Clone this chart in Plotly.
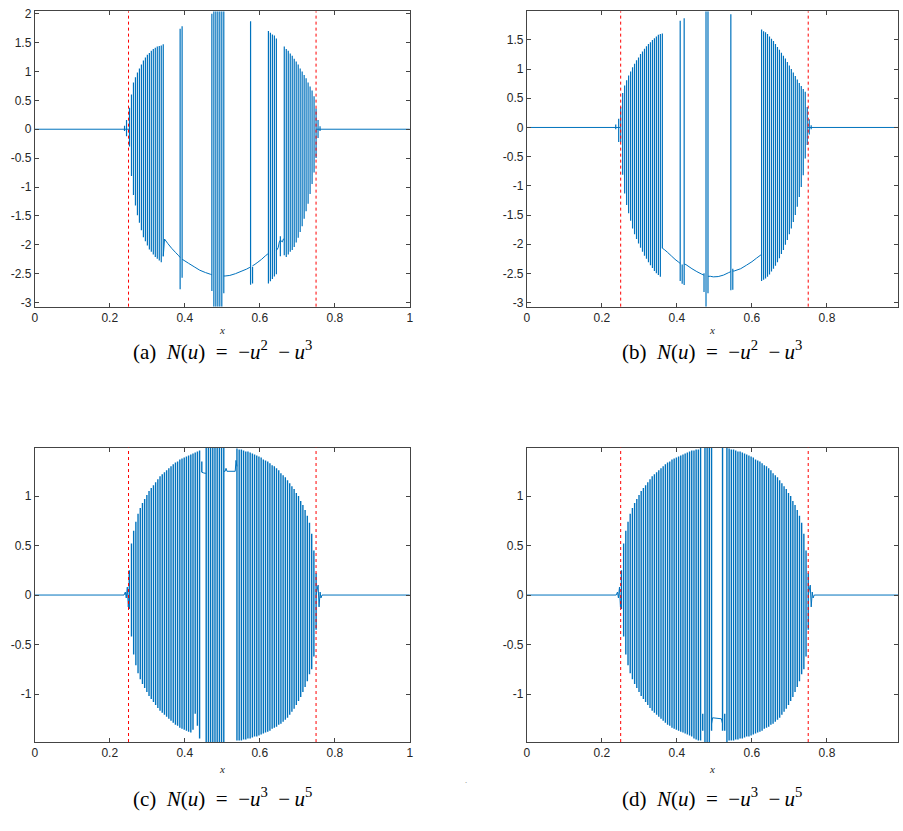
import plotly.graph_objects as go

# ---------------- data ----------------
ref_lines = [0.25, 0.75]

# panel (a): oscillation strokes (x, upper value, lower value)
a_spike_x = [0.2394, 0.2447,
             0.2526, 0.2579, 0.2632, 0.2685, 0.2738, 0.2791, 0.2844, 0.2897, 0.2950, 0.3003,
             0.3056, 0.3108, 0.3161, 0.3214, 0.3267, 0.3320, 0.3373, 0.3426,
             0.3876, 0.3929,
             0.4722, 0.4775, 0.4828, 0.4881, 0.4934, 0.4987, 0.5040,
             0.5754, 0.5807,
             0.6230, 0.6283, 0.6336, 0.6389, 0.6442,
             0.6548,
             0.6653, 0.6706, 0.6759, 0.6812, 0.6865, 0.6918, 0.6971, 0.7024, 0.7077, 0.7130,
             0.7183, 0.7235, 0.7288, 0.7341, 0.7394, 0.7447,
             0.7500, 0.7553, 0.7606]
a_spike_top = [0.06, 0.16,
               0.37, 0.60, 0.81, 0.90, 0.98, 1.05, 1.12, 1.19, 1.24, 1.29,
               1.32, 1.36, 1.39, 1.41, 1.43, 1.44, 1.45, 1.47,
               1.74, 1.78,
               2.00, 2.04, 2.04, 2.04, 2.04, 2.04, 2.04,
               1.87, -2.38,
               1.70, 1.67, 1.64, 1.62, 1.57,
               -1.85,
               1.43, 1.39, 1.36, 1.31, 1.27, 1.22, 1.17, 1.12, 1.05, 1.00,
               0.94, 0.88, 0.81, 0.74, 0.67, 0.57,
               0.36, 0.16, 0.05]
a_spike_bot = [-0.03, -0.12,
               -0.30, -0.81, -1.14, -1.32, -1.49, -1.62, -1.75, -1.87, -1.94, -2.01,
               -2.08, -2.12, -2.17, -2.21, -2.24, -2.27, -2.30, -2.20,
               -2.77, -2.57,
               -2.80, -3.07, -3.07, -3.07, -3.07, -3.07, -2.84,
               -2.69, -2.67,
               -2.67, -2.63, -2.59, -2.55, -2.51,
               -2.20,
               -2.18, -2.21, -2.17, -2.12, -2.09, -2.04, -1.96, -1.88, -1.78, -1.68,
               -1.55, -1.42, -1.29, -1.12, -0.95, -0.75,
               -0.50, -0.15, -0.03]
# panel (a): smooth parts of the solution (None = break)
a_base_x = [0.0, 0.2526, None,
            0.3426, 0.3460, 0.3550, 0.3650, 0.3750, 0.3840, 0.3876, None,
            0.3929, 0.3980, 0.4100, 0.4250, 0.4400, 0.4550, 0.4685, 0.4722, None,
            0.5040, 0.5075, 0.5200, 0.5350, 0.5500, 0.5650, 0.5735, 0.5754, None,
            0.5807, 0.5845, 0.5950, 0.6050, 0.6150, 0.6210, 0.6230, None,
            0.6442, 0.6490, 0.6520, 0.6548, 0.6600, 0.6630, 0.6653, None,
            0.7500, 1.0]
a_base_y = [0.0, 0.0, None,
            -2.20, -1.90, -1.98, -2.06, -2.13, -2.19, -2.22, None,
            -2.25, -2.27, -2.32, -2.38, -2.44, -2.48, -2.51, -2.52, None,
            -2.54, -2.54, -2.53, -2.50, -2.46, -2.42, -2.39, -2.38, None,
            -2.36, -2.35, -2.30, -2.25, -2.19, -2.16, -2.15, None,
            -2.10, -2.05, -1.95, -1.92, -1.95, -1.90, -1.90, None,
            0.0, 0.0]

# panel (b)
b_spike_x = [0.2368, 0.2447,
             0.2500, 0.2553, 0.2606, 0.2659, 0.2712, 0.2765, 0.2817, 0.2870, 0.2923, 0.2976,
             0.3029, 0.3082, 0.3135, 0.3188, 0.3241, 0.3294, 0.3347, 0.3400, 0.3452, 0.3505,
             0.3558, 0.3611,
             0.4087, 0.4140, 0.4193,
             0.4722, 0.4775, 0.4828,
             0.5437, 0.5489,
             0.6257, 0.6310, 0.6362, 0.6415, 0.6468, 0.6521, 0.6574, 0.6627, 0.6680, 0.6733,
             0.6786, 0.6839, 0.6892, 0.6944, 0.6997, 0.7050, 0.7103, 0.7156, 0.7209, 0.7262,
             0.7315, 0.7368, 0.7421, 0.7474,
             0.7527, 0.7579]
b_spike_top = [0.05, 0.15,
               0.35, 0.59, 0.72, 0.81, 0.89, 0.96, 1.03, 1.09, 1.15, 1.20,
               1.26, 1.30, 1.35, 1.39, 1.43, 1.46, 1.50, 1.53, 1.56, 1.59,
               1.60, 1.61,
               1.83, -2.35, 1.87,
               -2.50, 1.99, 1.99,
               1.94, -2.42,
               1.68, 1.65, 1.63, 1.60, 1.56, 1.52, 1.48, 1.43, 1.38, 1.33,
               1.28, 1.23, 1.18, 1.12, 1.06, 1.00, 0.94, 0.88, 0.82, 0.76,
               0.71, 0.66, 0.61, 0.35,
               0.14, 0.04]
b_spike_bot = [-0.03, -0.25,
               -0.25, -0.81, -1.13, -1.33, -1.47, -1.60, -1.73, -1.83, -1.91, -1.99,
               -2.06, -2.13, -2.20, -2.25, -2.31, -2.36, -2.41, -2.46, -2.50, -2.53,
               -2.56, -2.07,
               -2.63, -2.68, -2.70,
               -2.82, -3.07, -2.84,
               -2.79, -2.78,
               -2.63, -2.61, -2.59, -2.56, -2.52, -2.47, -2.42, -2.37, -2.31, -2.24,
               -2.17, -2.10, -2.01, -1.93, -1.83, -1.73, -1.62, -1.50, -1.36, -1.19,
               -1.02, -0.82, -0.53, -0.30,
               -0.12, -0.03]
b_base_x = [0.0, 0.2500, None,
            0.3611, 0.3660, 0.3750, 0.3850, 0.3950, 0.4050, 0.4087, None,
            0.4193, 0.4240, 0.4400, 0.4530, 0.4650, 0.4722, None,
            0.4828, 0.4890, 0.4970, 0.5100, 0.5240, 0.5370, 0.5437, None,
            0.5489, 0.5525, 0.5700, 0.5854, 0.6000, 0.6120, 0.6225, 0.6257, None,
            0.7474, 0.99]
b_base_y = [0.0, 0.0, None,
            -2.07, -2.09, -2.14, -2.20, -2.26, -2.31, -2.33, None,
            -2.34, -2.35, -2.42, -2.47, -2.51, -2.53, None,
            -2.55, -2.55, -2.56, -2.555, -2.53, -2.49, -2.47, None,
            -2.46, -2.46, -2.42, -2.36, -2.30, -2.24, -2.19, -2.18, None,
            0.0, 0.0]

# panels (c) and (d): positions of the oscillation strokes
grid_cd = [0.2520, 0.2579, 0.2637, 0.2696, 0.2754, 0.2813, 0.2872, 0.2930, 0.2989, 0.3047,
           0.3106, 0.3165, 0.3223, 0.3282, 0.3340, 0.3399, 0.3458, 0.3516, 0.3575, 0.3633,
           0.3692, 0.3751, 0.3809, 0.3868, 0.3926, 0.3985, 0.4044, 0.4102, 0.4161, 0.4219,
           0.4278, 0.4337, 0.4395, 0.4454, 0.4512, 0.4571, 0.4630, 0.4688, 0.4747, 0.4805,
           0.4864, 0.4923, 0.4981, 0.5040, 0.5098, 0.5157, 0.5216, 0.5274, 0.5333, 0.5391,
           0.5450, 0.5509, 0.5567, 0.5626, 0.5684, 0.5743, 0.5802, 0.5860, 0.5919, 0.5977,
           0.6036, 0.6095, 0.6153, 0.6212, 0.6270, 0.6329, 0.6388, 0.6446, 0.6505, 0.6563,
           0.6622, 0.6681, 0.6739, 0.6798, 0.6856, 0.6915, 0.6974, 0.7032, 0.7091, 0.7149,
           0.7208, 0.7267, 0.7325, 0.7384, 0.7442, 0.7501]

c_top = [0.25, 0.52, 0.65, 0.74, 0.82, 0.88, 0.93, 0.97, 1.01, 1.05,
         1.08, 1.11, 1.14, 1.17, 1.20, 1.22, 1.24, 1.26, 1.28, 1.30,
         1.32, 1.34, 1.35, 1.37, 1.38, 1.39, 1.40, 1.41, 1.42, 1.43,
         1.44, 1.45, 1.46, 1.35, None, 1.49, 1.49, 1.49, 1.49, 1.49,
         1.49, 1.49, 1.49, 1.49, None, None, None, None, None, 1.48,
         1.47, 1.47, 1.46, 1.45, 1.45, 1.44, 1.43, 1.42, 1.41, 1.40,
         1.39, 1.37, 1.36, 1.35, 1.33, 1.31, 1.30, 1.28, 1.26, 1.23,
         1.21, 1.19, 1.16, 1.13, 1.10, 1.07, 1.03, 1.00, 0.95, 0.91,
         0.86, 0.80, 0.73, 0.62, 0.45, 0.22]
c_bot = [-0.14, -0.42, -0.60, -0.71, -0.79, -0.85, -0.90, -0.94, -0.98, -1.02,
         -1.05, -1.08, -1.11, -1.14, -1.17, -1.19, -1.21, -1.23, -1.25, -1.27,
         -1.29, -1.31, -1.32, -1.34, -1.35, -1.36, -1.37, -1.38, -1.39, -1.36,
         -1.20, -1.32, -1.45, 1.24, None, -1.485, -1.485, -1.485, -1.485, -1.485,
         -1.485, -1.485, -1.485, -1.485, None, None, None, None, None, -1.47,
         -1.47, -1.47, -1.46, -1.46, -1.45, -1.45, -1.44, -1.43, -1.43, -1.42,
         -1.41, -1.40, -1.39, -1.38, -1.37, -1.35, -1.34, -1.33, -1.31, -1.30,
         -1.28, -1.26, -1.24, -1.21, -1.18, -1.15, -1.11, -1.07, -1.03, -0.98,
         -0.93, -0.87, -0.80, -0.75, -0.62, -0.35]
c_base_x = [0.0, 0.2380, 0.2415, 0.2440, 0.2468, 0.2494, 0.2520, None,
            0.4454, 0.4490, 0.4540, 0.4571, None,
            0.5040, 0.5075, 0.5100, 0.5125, 0.5345, 0.5365, 0.5391, None,
            0.7501, 0.7555, 0.7580, 0.7608, 0.7630, 0.7660, 1.0]
c_base_y = [0.0, 0.0, 0.03, -0.03, 0.08, -0.12, 0.0, None,
            1.24, 1.235, 1.23, 1.23, None,
            1.25, 1.25, 1.28, 1.25, 1.25, 1.36, 1.30, None,
            0.0, 0.10, -0.12, 0.03, -0.03, 0.0, 0.0]

d_top = [0.25, 0.52, 0.65, 0.74, 0.82, 0.88, 0.93, 0.97, 1.01, 1.05,
         1.08, 1.11, 1.14, 1.17, 1.20, 1.22, 1.24, 1.26, 1.28, 1.30,
         1.32, 1.34, 1.35, 1.37, 1.38, 1.39, 1.40, 1.41, 1.42, 1.43,
         1.44, 1.45, 1.46, 1.46, 1.47, 1.47, 1.49, -1.20, 1.49, 1.49,
         1.49, 1.49, None, None, None, None, 1.49, -1.20, 1.49, 1.48,
         1.47, 1.47, 1.46, 1.45, 1.45, 1.44, 1.43, 1.42, 1.41, 1.40,
         1.39, 1.37, 1.36, 1.35, 1.33, 1.31, 1.30, 1.28, 1.26, 1.23,
         1.21, 1.19, 1.16, 1.13, 1.10, 1.07, 1.03, 1.00, 0.95, 0.91,
         0.86, 0.80, 0.73, 0.62, 0.45, 0.22]
d_bot = [-0.14, -0.42, -0.60, -0.71, -0.79, -0.85, -0.90, -0.94, -0.98, -1.02,
         -1.05, -1.08, -1.11, -1.14, -1.17, -1.19, -1.21, -1.23, -1.25, -1.27,
         -1.29, -1.31, -1.32, -1.34, -1.35, -1.36, -1.37, -1.38, -1.39, -1.40,
         -1.41, -1.42, -1.43, -1.45, -1.46, -1.47, -1.47, -1.37, -1.485, -1.485,
         -1.485, -1.37, None, None, None, None, -1.37, -1.37, -1.485, -1.47,
         -1.47, -1.47, -1.46, -1.46, -1.45, -1.45, -1.44, -1.43, -1.43, -1.42,
         -1.41, -1.40, -1.39, -1.38, -1.37, -1.35, -1.34, -1.33, -1.31, -1.30,
         -1.28, -1.26, -1.24, -1.21, -1.18, -1.15, -1.11, -1.07, -1.03, -0.98,
         -0.93, -0.87, -0.80, -0.75, -0.62, -0.35]
d_base_x = [0.0, 0.2380, 0.2415, 0.2440, 0.2468, 0.2494, 0.2520, None,
            0.4923, 0.4950, 0.5185, 0.5216, None,
            0.7501, 0.7555, 0.7580, 0.7608, 0.7630, 0.7660, 0.99]
d_base_y = [0.0, 0.0, 0.03, -0.03, 0.08, -0.12, 0.0, None,
            -1.30, -1.24, -1.25, -1.30, None,
            0.0, 0.10, -0.12, 0.03, -0.03, 0.0, 0.0]

captions = ["(a)", "(b)", "(c)", "(d)"]
powers = [("2", "3"), ("2", "3"), ("3", "5"), ("3", "5")]

y_ticks_a = [-3, -2.5, -2, -1.5, -1, -0.5, 0, 0.5, 1, 1.5, 2]
y_ticks_b = [-3, -2.5, -2, -1.5, -1, -0.5, 0, 0.5, 1, 1.5]
y_ticks_cd = [-1, -0.5, 0, 0.5, 1]
x_ticks_full = [0, 0.2, 0.4, 0.6, 0.8, 1]
x_ticks_cut = [0, 0.2, 0.4, 0.6, 0.8]


def strokes(sx, st, sb):
    xs, ys = [], []
    for x, t, b in zip(sx, st, sb):
        if t is None or b is None:
            continue
        xs += [x, x, None]
        ys += [t, b, None]
    return xs, ys


panels = [
    dict(sx=a_spike_x, st=a_spike_top, sb=a_spike_bot, bx=a_base_x, by=a_base_y,
         xr=[0, 1], yr=[-3.07, 2.04], xt=x_ticks_full, yt=y_ticks_a, bw=1.2),
    dict(sx=b_spike_x, st=b_spike_top, sb=b_spike_bot, bx=b_base_x, by=b_base_y,
         xr=[0, 0.99], yr=[-3.07, 1.99], xt=x_ticks_cut, yt=y_ticks_b, bw=1.2),
    dict(sx=grid_cd, st=c_top, sb=c_bot, bx=c_base_x, by=c_base_y,
         xr=[0, 1], yr=[-1.485, 1.49], xt=x_ticks_full, yt=y_ticks_cd, bw=1.4),
    dict(sx=grid_cd, st=d_top, sb=d_bot, bx=d_base_x, by=d_base_y,
         xr=[0, 0.99], yr=[-1.485, 1.49], xt=x_ticks_cut, yt=y_ticks_cd, bw=1.4),
]

W, H = 903, 831


def px_x(p):
    return min(1.0, max(0.0, p / W))


def px_y(p):
    return min(1.0, max(0.0, 1 - p / H))


# 378 px per x unit in every panel
x_dom = [[px_x(32.0), px_x(410.0)], [px_x(528.0), px_x(528.0 + 0.99 * 378)],
         [px_x(32.0), px_x(410.0)], [px_x(528.0), px_x(528.0 + 0.99 * 378)]]
y_dom = [[px_y(305.2), px_y(7.4)], [px_y(305.2), px_y(7.4)],
         [px_y(744.3), px_y(447.3)], [px_y(744.3), px_y(447.3)]]

fig = go.Figure()
tick_font = dict(family="Liberation Sans, Arial, sans-serif", size=12, color="#262626")

for i, p in enumerate(panels):
    n = "" if i == 0 else str(i + 1)
    xs, ys = strokes(p["sx"], p["st"], p["sb"])
    fig.add_trace(go.Scatter(x=xs, y=ys, mode="lines", connectgaps=False,
                             line=dict(color="#0072BD", width=p["bw"], simplify=False),
                             xaxis="x" + n, yaxis="y" + n,
                             hoverinfo="skip", showlegend=False))
    fig.add_trace(go.Scatter(x=p["bx"], y=p["by"], mode="lines", connectgaps=False,
                             line=dict(color="#0072BD", width=1.0, simplify=False),
                             xaxis="x" + n, yaxis="y" + n,
                             hoverinfo="skip", showlegend=False))
    for xv in ref_lines:
        fig.add_shape(type="line", x0=xv, x1=xv, y0=0, y1=1,
                      xref="x" + n, yref="y" + n + " domain",
                      line=dict(color="#FF0000", width=1, dash="dot"))
    ax = dict(domain=x_dom[i], range=p["xr"], anchor="y" + n,
              showline=True, mirror="ticks", linecolor="#444444", linewidth=1,
              ticks="inside", ticklen=4, tickcolor="#444444", tickwidth=1,
              tickvals=p["xt"], ticktext=["%g" % v for v in p["xt"]],
              tickfont=tick_font, showgrid=False, zeroline=False, fixedrange=True)
    ay = dict(domain=y_dom[i], range=p["yr"], anchor="x" + n,
              showline=True, mirror="ticks", linecolor="#444444", linewidth=1,
              ticks="inside", ticklen=4, tickcolor="#444444", tickwidth=1,
              tickvals=p["yt"], ticktext=["%g" % v for v in p["yt"]],
              tickfont=tick_font, showgrid=False, zeroline=False, fixedrange=True)
    fig.layout["xaxis" + n] = ax
    fig.layout["yaxis" + n] = ay

EN = "\u2002"
TH = "\u2009"
centers_x = [px_x(221.0), px_x(715.0), px_x(221.0), px_x(715.0)]
xlabel_y = [px_y(329), px_y(329), px_y(772), px_y(772)]
caption_y = [px_y(349), px_y(349), px_y(800), px_y(800)]
for i in range(4):
    p1, p2 = powers[i]
    cap = (captions[i] + EN + "<i>N</i>(<i>u</i>)" + EN + "=" + EN
           + "−<i>u</i><sup>" + p1 + "</sup>" + EN + "−" + TH + "<i>u</i><sup>" + p2 + "</sup>")
    fig.add_annotation(x=centers_x[i], y=xlabel_y[i], xref="paper", yref="paper",
                       xanchor="center", yanchor="middle",
                       text="<i>x</i>", showarrow=False,
                       font=dict(family="Liberation Serif, serif", size=11, color="#262626"))
    fig.add_annotation(x=centers_x[i], y=caption_y[i], xref="paper", yref="paper",
                       xanchor="center", yanchor="middle",
                       text=cap, showarrow=False,
                       font=dict(family="Liberation Serif, serif", size=21, color="#000000"))
fig.add_annotation(x=px_x(467), y=px_y(790), xref="paper", yref="paper", text=".",
                   xanchor="center", yanchor="bottom",
                   showarrow=False, font=dict(size=8, color="#888888"))

fig.update_layout(width=W, height=H, autosize=False,
                  margin=dict(l=0, r=0, t=0, b=0),
                  paper_bgcolor="white", plot_bgcolor="white")

fig.write_html("out.html", post_script="document.body.style.margin='0px';",
               config={"displayModeBar": False})
